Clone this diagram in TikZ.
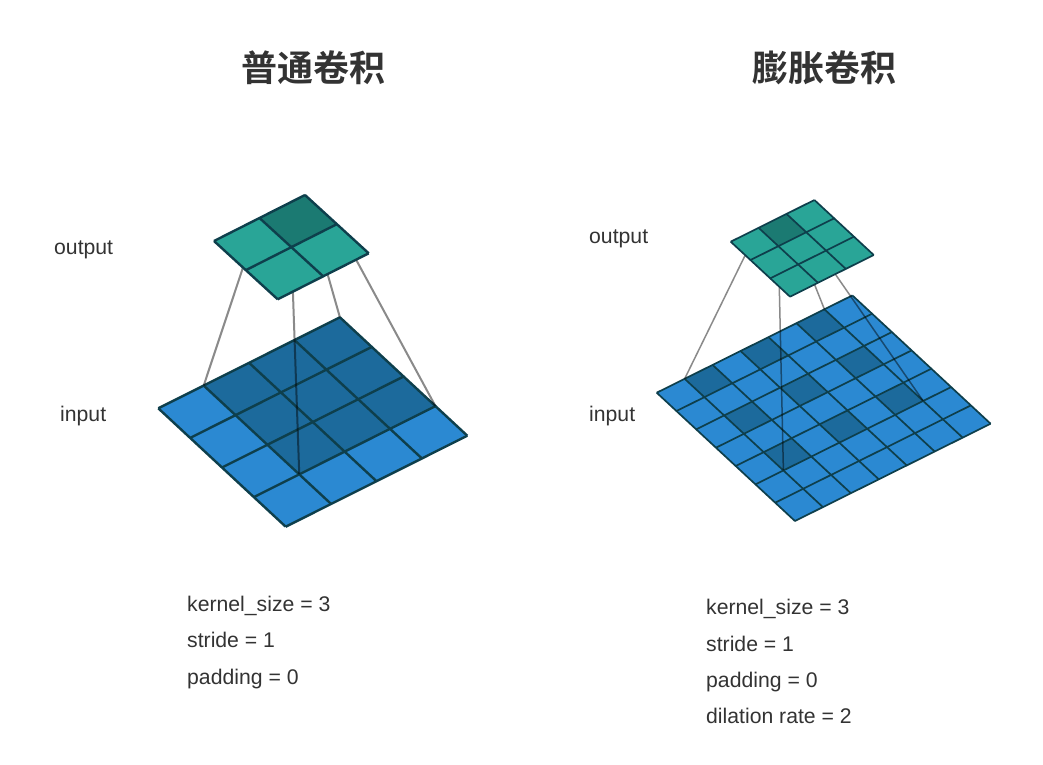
\documentclass[tikz,border=0pt]{standalone}
\usepackage{fontspec}
\setmainfont{Liberation Sans}
\newfontfamily\cjkbold[BoldFont=Noto Sans CJK SC Bold]{Noto Sans CJK SC}
\definecolor{inblue}{HTML}{2B89D2}
\definecolor{indark}{HTML}{1C6A9C}
\definecolor{outteal}{HTML}{29A597}
\definecolor{outdark}{HTML}{1B7A72}
\definecolor{gridline}{HTML}{0E3F4C}
\definecolor{linkgray}{HTML}{8A8A8A}
\definecolor{txt}{HTML}{333333}
\newcommand{\quadcell}[5]{\fill[#1] (#2,#3) -- (#4,#3) -- (#4,#5) -- (#2,#5) -- cycle;}
\tikzset{
  titletext/.style={anchor=center,text=txt,font=\cjkbold\bfseries\fontsize{36}{40}\selectfont,inner sep=0pt},
  labeltext/.style={anchor=base west,text=txt,font=\fontsize{21.2}{24}\selectfont,inner sep=0pt},
  link/.style={draw=linkgray,line width=2pt,blend mode=multiply},
  bigline/.style={draw=gridline,line width=2.4pt,line join=round},
  smallline/.style={draw=gridline,line width=1.7pt,line join=round}
}
\begin{document}
\begin{tikzpicture}[x=1pt,y=-1pt]
\useasboundingbox (0,0) rectangle (1043,764);
\fill[white] (0,0) rectangle (1043,764);

% ---------- left: input
\begin{scope}[shift={(158.3,408.3)},x={(45.4pt,22.75pt)},y={(31.85pt,-29.6pt)}]
  \quadcell{inblue}{0}{0}{4}{4}
  \quadcell{indark}{1}{0}{4}{3}
  \foreach \k in {0,...,4} {\draw[bigline] (\k,0) -- (\k,4); \draw[bigline] (0,\k) -- (4,\k);}
  \coordinate (aIn1) at (1,0);
  \coordinate (aIn2) at (1,3);
  \coordinate (aIn3) at (4,0);
  \coordinate (aIn4) at (4,3);
\end{scope}
% left: output anchors
\begin{scope}[shift={(214,241)},x={(45.5pt,23pt)},y={(31.85pt,-29.15pt)}]
  \coordinate (aOut1) at (1,0);
  \coordinate (aOut2) at (1,1);
  \coordinate (aOut3) at (2,0);
  \coordinate (aOut4) at (2,1);
\end{scope}
\foreach \k in {1,...,4} \draw[link] (aOut\k) -- (aIn\k);
\begin{scope}[shift={(214,241)},x={(45.5pt,23pt)},y={(31.85pt,-29.15pt)}]
  \quadcell{outteal}{0}{0}{2}{2}
  \quadcell{outdark}{1}{0}{2}{1}
  \foreach \k in {0,1,2} {\draw[bigline] (\k,0) -- (\k,2); \draw[bigline] (0,\k) -- (2,\k);}
\end{scope}

% ---------- right: input
\begin{scope}[shift={(656.7,392.7)},x={(27.95pt,13.9pt)},y={(19.75pt,-18.33pt)}]
  \quadcell{inblue}{0}{0}{7}{7}
  \foreach \a/\aa in {1/2,3/4,5/6} \foreach \b/\bb in {0/1,2/3,4/5} {\quadcell{indark}{\a}{\b}{\aa}{\bb}}
  \foreach \k in {0,...,7} {\draw[smallline] (\k,0) -- (\k,7); \draw[smallline] (0,\k) -- (7,\k);}
  \coordinate (bIn1) at (1,0);
  \coordinate (bIn2) at (1,5);
  \coordinate (bIn3) at (6,0);
  \coordinate (bIn4) at (6,5);
\end{scope}
% right: output anchors
\begin{scope}[shift={(730.7,241.7)},x={(27.9pt,13.9pt)},y={(19.77pt,-18.33pt)}]
  \coordinate (bOut1) at (1,0);
  \coordinate (bOut2) at (1,1);
  \coordinate (bOut3) at (2,0);
  \coordinate (bOut4) at (2,1);
\end{scope}
\foreach \k in {1,...,4} \draw[link,line width=1.5pt] (bOut\k) -- (bIn\k);
\begin{scope}[shift={(730.7,241.7)},x={(27.9pt,13.9pt)},y={(19.77pt,-18.33pt)}]
  \quadcell{outteal}{0}{0}{3}{3}
  \quadcell{outdark}{1}{0}{2}{1}
  \foreach \k in {0,...,3} {\draw[smallline] (\k,0) -- (\k,3); \draw[smallline] (0,\k) -- (3,\k);}
\end{scope}

% ---------- text
\node[titletext] (t1) at (313,68) {普通卷积};
\node[titletext] (t2) at (824,68) {膨胀卷积};
\node[labeltext] (l1) at (54,254) {output};
\node[labeltext] (l2) at (60,421) {input};
\node[labeltext] (l3) at (589,243) {output};
\node[labeltext] (l4) at (589,421) {input};
\node[labeltext] (a1) at (187,611) {kernel\_size = 3};
\node[labeltext] (a2) at (187,647) {stride = 1};
\node[labeltext] (a3) at (187,684) {padding = 0};
\node[labeltext] (b1) at (706,614) {kernel\_size = 3};
\node[labeltext] (b2) at (706,651) {stride = 1};
\node[labeltext] (b3) at (706,687) {padding = 0};
\node[labeltext] (b4) at (706,723) {dilation rate = 2};
\end{tikzpicture}
\end{document}
